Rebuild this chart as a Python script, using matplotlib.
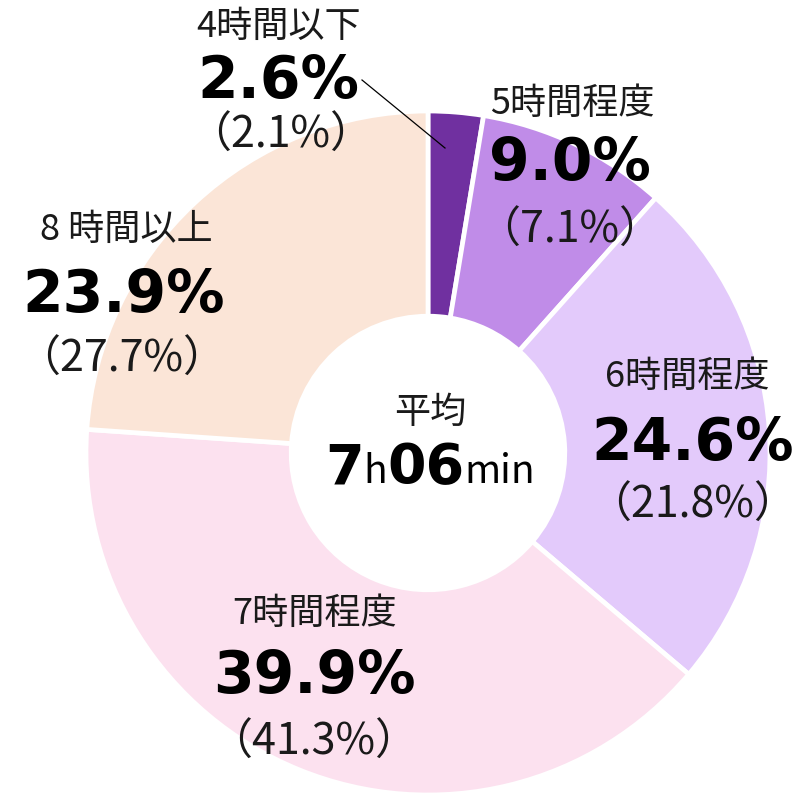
import matplotlib
matplotlib.use("Agg")
import matplotlib.pyplot as plt
from matplotlib.offsetbox import TextArea, HPacker, AnnotationBbox

plt.rcParams['font.family'] = ['Noto Sans CJK JP', 'DejaVu Sans']

categories = ["4時間以下", "5時間程度", "6時間程度", "7時間程度", "8時間以上"]
category_labels = ["4時間以下", "5時間程度", "6時間程度", "7時間程度", "8 時間以上"]
values = [2.6, 9.0, 24.6, 39.9, 23.9]
previous = [2.1, 7.1, 21.8, 41.3, 27.7]
average_label = "平均"
average_parts = ["7", "h", "06", "min"]
colors = ["#7030A0", "#C08CE8", "#E3CAFB", "#FCE1EF", "#FBE5D7"]

W, H = 808, 793
cx, cy, R = 428, 453, 342
fig = plt.figure(figsize=(W / 100, H / 100), dpi=100)
ax = fig.add_axes([(cx - R) / W, (H - cy - R) / H, 2 * R / W, 2 * R / H])

ax.pie(values, colors=colors, startangle=90, counterclock=False, radius=1,
       wedgeprops=dict(width=0.6, edgecolor='white', linewidth=3.4))
ax.set_xlim(-1, 1)
ax.set_ylim(-1, 1)
ax.set_aspect('equal')
ax.axis('off')


def d(px, py):
    return ((px - cx) / R, (cy - py) / R)


TXT = '#1a1a1a'
# (label center), (pct baseline), (paren baseline)
label_pos = [
    [(279, 27), (278, 98), (281, 148)],
    [(572, 104), (570, 180), (570, 243)],
    [(687, 377), (693, 460), (693, 518)],
    [(315, 614), (314, 693), (314, 755)],
    [(126, 230), (124, 312), (122, 372)],
]
for cat, val, prev, pos in zip(category_labels, values, previous, label_pos):
    ax.text(*d(*pos[0]), cat, ha='center', va='center', fontsize=26, color=TXT,
            clip_on=False)
    ax.text(*d(*pos[1]), f"{val:.1f}%", ha='center', va='baseline', fontsize=42,
            fontweight='bold', color='black', family='DejaVu Sans', clip_on=False)
    ax.text(*d(*pos[2]), f"（{prev:.1f}%）", ha='center', va='baseline', fontsize=31,
            color=TXT, clip_on=False)

# leader line for smallest slice
x0, y0 = d(362, 80)
x1, y1 = d(445, 148)
ax.plot([x0, x1], [y0, y1], color='black', lw=0.9, clip_on=False, zorder=5)

# center text
ax.text(*d(430, 413), average_label, ha='center', va='center', fontsize=26, color=TXT)
styles = [('bold', 40, 'DejaVu Sans'), ('normal', 28, 'Noto Sans CJK JP'),
          ('bold', 40, 'DejaVu Sans'), ('normal', 28, 'Noto Sans CJK JP')]
boxes = [TextArea(t, textprops=dict(fontsize=s, fontweight=w, family=f, color='black'))
         for t, (w, s, f) in zip(average_parts, styles)]
pack = HPacker(children=boxes, align='baseline', pad=0, sep=0)
ab = AnnotationBbox(pack, d(430, 468), frameon=False, box_alignment=(0.5, 0.5))
ax.add_artist(ab)

fig.savefig("out.png", dpi=100)
